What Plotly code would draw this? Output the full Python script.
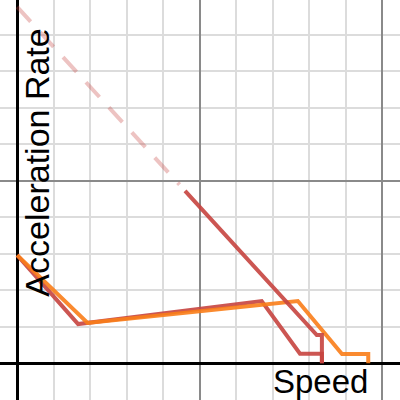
import plotly.graph_objects as go

# points (grid units)
red_x = [0, 1.67, 6.70, 7.75, 8.35, 8.35]
red_y = [2.96, 1.07, 1.70, 0.26, 0.26, 0]

orange_x = [0, 1.93, 7.69, 8.90, 9.62, 9.62]
orange_y = [2.96, 1.10, 1.70, 0.25, 0.25, 0]

# long diagonal, faded dashed part then solid part
diag_dash_x = [0, 4.45]
diag_dash_y = [9.76, 4.89]
diag_x = [4.60, 8.21, 8.35, 8.35]
diag_y = [4.72, 0.77, 0.77, 0]

RED = "#c74440"
ORANGE = "#fa7e19"
W = 4

fig = go.Figure()
fig.add_trace(go.Scatter(x=red_x, y=red_y, mode="lines",
                         line=dict(color=RED, width=W), opacity=0.9))
fig.add_trace(go.Scatter(x=orange_x, y=orange_y, mode="lines",
                         line=dict(color=ORANGE, width=W), opacity=0.9))
fig.add_trace(go.Scatter(x=diag_dash_x, y=diag_dash_y, mode="lines",
                         line=dict(color="rgba(199,68,64,0.32)", width=W, dash="20px,14px")))
fig.add_trace(go.Scatter(x=diag_x, y=diag_y, mode="lines",
                         line=dict(color=RED, width=W), opacity=0.9))

ax = dict(showgrid=True, gridcolor="#8a8a8a", gridwidth=1.5, dtick=5, tick0=0,
          zeroline=True, zerolinecolor="#000000", zerolinewidth=2.5,
          showticklabels=False, ticks="", showline=False,
          minor=dict(dtick=1, tick0=0, showgrid=True, gridcolor="#dcdcdc", gridwidth=1.5))

fig.update_layout(
    width=400, height=400,
    margin=dict(l=0, r=0, t=0, b=0),
    paper_bgcolor="white", plot_bgcolor="white",
    showlegend=False,
    xaxis=dict(range=[-0.47, 10.49], **ax),
    yaxis=dict(range=[-1.01, 9.95], **ax),
    font=dict(family="Arial, Liberation Sans", size=33, color="black"),
    annotations=[
        dict(text="Speed", x=8.3, y=-0.5, xref="x", yref="y",
             showarrow=False, xanchor="center", yanchor="middle"),
        dict(text="Acceleration Rate", x=0.55, y=5.5, xref="x", yref="y",
             showarrow=False, textangle=-90, xanchor="center", yanchor="middle",
             font=dict(size=34)),
    ],
)

fig.write_html("out.html", config={"displayModeBar": False},
               post_script="document.body.style.margin='0';")
